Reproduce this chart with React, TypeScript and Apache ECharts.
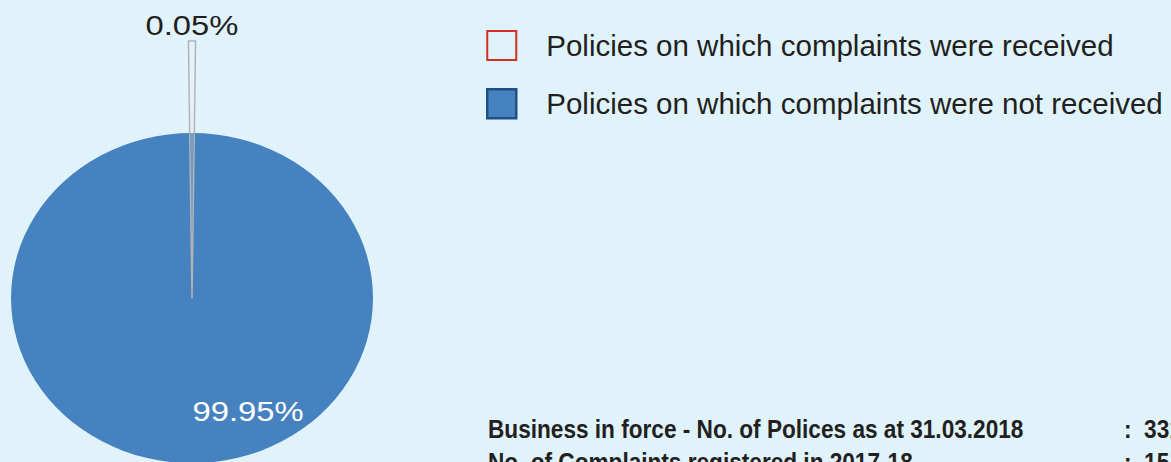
import React, { useEffect, useRef } from "react";
import * as echarts from "echarts";

// ---- data ----
const categories = [
  "Policies on which complaints were received",
  "Policies on which complaints were not received",
];
const values = [0.05, 99.95];
const shareLabels = ["0.05%", "99.95%"];
const infoLines = [
  "Business in force - No. of Polices as at 31.03.2018",
  "No. of Complaints registered in 2017-18",
];
const infoValues = ["331", "15"];

// ---- styling / layout ----
const BG = "#e0f3fb";
const BLUE = "#4682c0";
const TEXT = "#231f20";
const CX = 192;
const CY = 298;
const RX = 181;
const RY = 165;

const sliceStyles = [
  {
    r: 257,
    scaleY: 1,
    minAngleDeg: 1.6,
    fill: "none",
    stroke: "#b3b3b3",
    lineWidth: 1.5,
    labelDx: 0,
    labelDy: -273,
    labelColor: TEXT,
    z: 3,
  },
  {
    r: RX,
    scaleY: RY / RX,
    minAngleDeg: 0,
    fill: BLUE,
    stroke: "none",
    lineWidth: 0,
    labelDx: 56,
    labelDy: 113,
    labelColor: "#ffffff",
    z: 2,
  },
];

export default function App() {
  const ref = useRef<HTMLDivElement>(null);

  useEffect(() => {
    if (!ref.current) return;
    const chart = echarts.init(ref.current, undefined, { renderer: "svg" });
    const total = values.reduce((a, b) => a + b, 0);
    const cumBefore = values.map((_, i) =>
      values.slice(0, i).reduce((a, b) => a + b, 0)
    );

    const series = categories.map((name, i) => {
      const st = sliceStyles[i];
      return {
        type: "custom",
        name,
        coordinateSystem: "none",
        z: st.z,
        silent: true,
        data: [[values[i], cumBefore[i]]],
        renderItem: (_params: any, api: any) => {
          const v = api.value(0) as number;
          const before = api.value(1) as number;
          const base = -Math.PI / 2 - (values[0] / total) * Math.PI;
          let s = base + (before / total) * 2 * Math.PI;
          let e = s + (v / total) * 2 * Math.PI;
          const minA = (st.minAngleDeg * Math.PI) / 180;
          if (e - s < minA) {
            const m = (s + e) / 2;
            s = m - minA / 2;
            e = m + minA / 2;
          }
          return {
            type: "group",
            children: [
              {
                type: "sector",
                shape: {
                  cx: CX,
                  cy: CY,
                  r: st.r,
                  r0: 0,
                  startAngle: s,
                  endAngle: e,
                  clockwise: true,
                },
                originX: CX,
                originY: CY,
                scaleY: st.scaleY,
                style: {
                  fill: st.fill,
                  stroke: st.stroke,
                  lineWidth: st.lineWidth,
                },
              },
              {
                type: "text",
                x: CX + st.labelDx,
                y: CY + st.labelDy,
                scaleX: 1.17,
                style: {
                  text: shareLabels[i],
                  fill: st.labelColor,
                  font: '28px "Liberation Sans", Arial, sans-serif',
                  align: "center",
                  verticalAlign: "middle",
                },
              },
            ],
          };
        },
      };
    });

    const option: any = {
      animation: false,
      backgroundColor: BG,
      legend: {
        orient: "vertical",
        left: 481,
        top: 25,
        itemWidth: 29,
        itemHeight: 29,
        itemGap: 27,
        icon: "rect",
        selectedMode: false,
        data: [
          {
            name: categories[0],
            itemStyle: { color: BG, borderColor: "#d32f26", borderWidth: 2 },
          },
          {
            name: categories[1],
            itemStyle: { color: BLUE, borderColor: "#1e4f85", borderWidth: 2.5 },
          },
        ],
        textStyle: {
          fontSize: 29.5,
          lineHeight: 30,
          color: TEXT,
          fontFamily: '"Liberation Sans", Arial, sans-serif',
          padding: [0, 0, 0, 25],
        },
      },
      graphic: infoLines.flatMap((line, i) => [
        {
          type: "text",
          x: 488,
          y: 429 + i * 33,
          scaleX: 0.87,
          silent: true,
          style: {
            text: line,
            font: 'bold 26px "Liberation Sans", Arial, sans-serif',
            fill: TEXT,
            verticalAlign: "middle",
          },
        },
        {
          type: "text",
          x: 1124,
          y: 429 + i * 33,
          scaleX: 0.87,
          silent: true,
          style: {
            text: ":  " + infoValues[i],
            font: 'bold 26px "Liberation Sans", Arial, sans-serif',
            fill: TEXT,
            verticalAlign: "middle",
          },
        },
      ]),
      series,
    };
    chart.setOption(option);
    return () => chart.dispose();
  }, []);

  return (
    <div
      ref={ref}
      style={{ position: "fixed", left: 0, top: 0, width: 1171, height: 462 }}
    />
  );
}
